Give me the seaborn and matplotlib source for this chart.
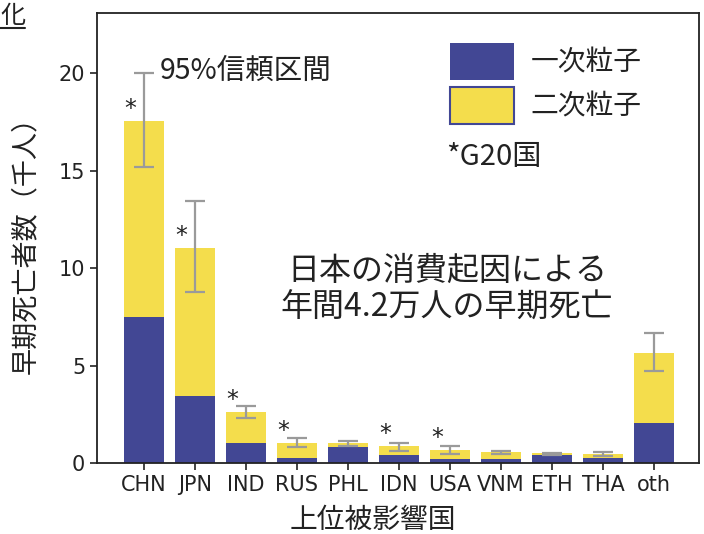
import matplotlib
matplotlib.use("Agg")
import matplotlib.pyplot as plt
from matplotlib.patches import Patch
from matplotlib.lines import Line2D
import seaborn as sns
import pandas as pd
import numpy as np

# Top affected countries: premature deaths (thousands) from Japan's consumption
countries = ["CHN", "JPN", "IND", "RUS", "PHL", "IDN", "USA", "VNM", "ETH", "THA", "oth"]
total = [17.55, 11.05, 2.6, 1.05, 1.05, 0.85, 0.65, 0.55, 0.5, 0.45, 5.65]
primary = [7.5, 3.45, 1.0, 0.25, 0.8, 0.4, 0.2, 0.2, 0.4, 0.25, 2.05]
ci_low = [15.2, 8.8, 2.3, 0.8, 0.85, 0.6, 0.45, 0.45, 0.42, 0.35, 4.7]
ci_high = [20.0, 13.45, 2.95, 1.3, 1.15, 1.0, 0.85, 0.6, 0.53, 0.55, 6.65]
g20 = ["CHN", "JPN", "IND", "RUS", "IDN", "USA"]
yticks = [0, 5, 10, 15, 20]

NAVY = "#424794"
YELLOW = "#F4DD4C"
GREY = "#9a9a9a"
INK = "#222222"
JP = "Noto Sans CJK JP"

sns.set_style("ticks")
plt.rcParams["font.family"] = ["DejaVu Sans", JP]

df = pd.DataFrame({"country": countries, "total": total, "primary": primary})

fig = plt.figure(figsize=(7.04, 5.34), dpi=100)
ax = fig.add_axes([0.1378, 0.133, 0.855, 0.8427])

# Stacked bars: full height in yellow (secondary), primary share in navy on top
sns.barplot(data=df, x="country", y="total", color=YELLOW, saturation=1,
            errorbar=None, width=0.8, linewidth=0, ax=ax)
sns.barplot(data=df, x="country", y="primary", color=NAVY, saturation=1,
            errorbar=None, width=0.8, linewidth=0, ax=ax)

xs = np.arange(len(countries))
tot = np.array(total)
err = [tot - np.array(ci_low), np.array(ci_high) - tot]
ax.errorbar(xs, tot, yerr=err, fmt="none", ecolor=GREY, elinewidth=1.6,
            capsize=7, capthick=1.6, zorder=5)

for i, c in enumerate(countries):
    if c in g20:
        ax.text(i - 0.26, total[i] + 0.0, "*", ha="center", va="bottom",
                fontsize=17, color=INK)

ax.set_xlim(-0.92, 10.88)
ax.set_ylim(0, 23.1)
ax.set_yticks(yticks)
ax.set_xlabel("上位被影響国", fontsize=20, family=[JP], labelpad=7, color=INK)
ax.xaxis.label.set_x(0.458)
ax.set_ylabel("早期死亡者数（千人）", fontsize=19.5, family=[JP], labelpad=14,
              color=INK)
ax.tick_params(axis="both", labelsize=15, length=5, width=1.2, colors=INK,
               labelcolor=INK)
for s in ax.spines.values():
    s.set_visible(True)
    s.set_linewidth(1.3)
    s.set_color(INK)

ax.text(160 / 704, 1 - 71 / 534, "95%信頼区間", transform=fig.transFigure,
        fontsize=20.5, family=[JP], va="center", ha="left", color=INK)
ax.text(447 / 704, 1 - 289 / 534, "日本の消費起因による\n年間4.2万人の早期死亡",
        transform=fig.transFigure, fontsize=23, family=[JP], ha="center",
        va="center", linespacing=1.2, color=INK)

handles = [Patch(facecolor=NAVY, edgecolor=NAVY, linewidth=0),
           Patch(facecolor=YELLOW, edgecolor=NAVY, linewidth=1.5)]
leg = ax.legend(handles, ["一次粒子", "二次粒子"], loc="upper left",
                bbox_to_anchor=(443 / 704, 1 - 36 / 534), bbox_transform=fig.transFigure,
                frameon=False, prop={"family": JP, "size": 20},
                handlelength=2.3, handleheight=1.68, handletextpad=0.6,
                labelspacing=0.25, borderaxespad=0, borderpad=0.25)
for t in leg.get_texts():
    t.set_color(INK)
ax.text(446 / 704, 1 - 157 / 534, "*G20国", transform=fig.transFigure,
        fontsize=21, family=[JP], va="center", ha="left", color=INK)

# Trailing character of the panel heading, underlined
fig.text(0.0, 1 - 16 / 534, "化", fontsize=18, family=[JP], va="center",
         ha="left", color=INK)
fig.add_artist(Line2D([0, 25 / 704], [1 - 28 / 534, 1 - 28 / 534],
                      transform=fig.transFigure, color=INK, linewidth=1.5))

fig.savefig("out.png", dpi=100)
